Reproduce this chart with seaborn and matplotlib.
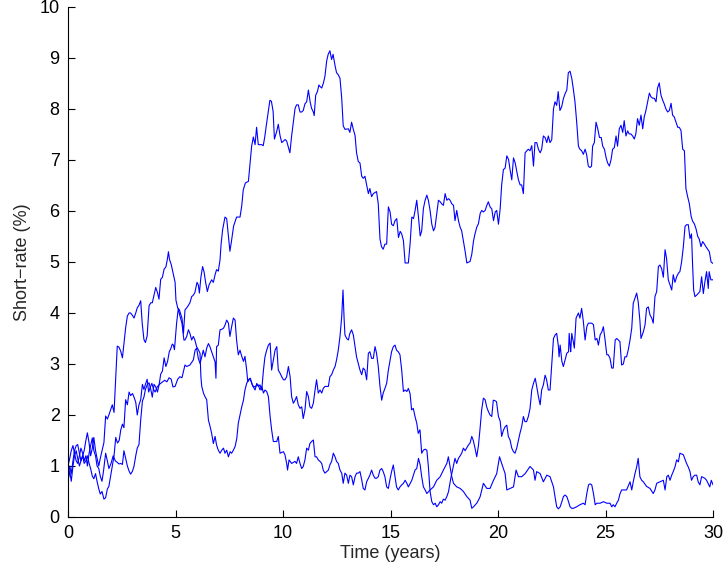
import matplotlib
matplotlib.use("Agg")
import matplotlib.pyplot as plt
import seaborn as sns
import pandas as pd

# ---- data (time in years, short rate in %) ----
a_t = [0, 0.08, 0.15, 0.23, 0.3, 0.38, 0.45, 0.53, 0.6, 0.68, 0.75, 0.83, 0.9, 0.98, 1.05, 1.13, 1.2, 1.28, 1.35, 1.43,
       1.5, 1.58, 1.67, 1.75, 1.83, 1.9, 1.98, 2.06, 2.14, 2.22, 2.29, 2.37, 2.45, 2.53, 2.6, 2.68, 2.76, 2.84, 2.91, 3.0,
       3.07, 3.15, 3.22, 3.3, 3.38, 3.45, 3.53, 3.6, 3.68, 3.77, 3.85, 3.92, 4.0, 4.08, 4.16, 4.23, 4.31, 4.39, 4.47, 4.55,
       4.62, 4.67, 4.72, 4.8, 4.9, 4.98, 5.02, 5.1, 5.18, 5.3, 5.37, 5.44, 5.52, 5.6, 5.67, 5.75, 5.83, 5.9, 6.0, 6.06,
       6.11, 6.18, 6.26, 6.33, 6.4, 6.48, 6.56, 6.68, 6.76, 6.84, 6.91, 6.99, 7.07, 7.12, 7.19, 7.3, 7.38, 7.44, 7.53, 7.6,
       7.7, 7.84, 8.0, 8.08, 8.15, 8.25, 8.39, 8.46, 8.54, 8.62, 8.7, 8.77, 8.85, 9.0, 9.08, 9.15, 9.23, 9.3, 9.39, 9.46,
       9.54, 9.6, 9.7, 9.78, 9.86, 9.94, 10.02, 10.1, 10.17, 10.25, 10.32, 10.4, 10.48, 10.56, 10.63, 10.71, 10.79, 10.87, 10.94, 11.02,
       11.1, 11.18, 11.26, 11.33, 11.41, 11.45, 11.52, 11.6, 11.67, 11.72, 11.8, 11.88, 11.95, 12.03, 12.1, 12.18, 12.26, 12.33, 12.41, 12.49,
       12.57, 12.65, 12.73, 12.8, 12.88, 13.04, 13.11, 13.19, 13.27, 13.35, 13.42, 13.5, 13.58, 13.66, 13.73, 13.81, 13.89, 13.97, 14.04, 14.12,
       14.2, 14.35, 14.43, 14.51, 14.58, 14.66, 14.74, 14.82, 14.9, 14.98, 15.05, 15.13, 15.21, 15.29, 15.37, 15.45, 15.52, 15.6, 15.68, 15.83,
       15.91, 15.99, 16.07, 16.14, 16.22, 16.3, 16.38, 16.45, 16.53, 16.61, 16.69, 16.76, 16.84, 16.92, 17.0, 17.07, 17.15, 17.23, 17.31, 17.38,
       17.46, 17.54, 17.62, 17.7, 17.77, 17.85, 17.93, 18.0, 18.08, 18.16, 18.24, 18.31, 18.39, 18.47, 18.55, 18.7, 18.78, 18.86, 18.93, 19.01,
       19.09, 19.17, 19.24, 19.32, 19.4, 19.48, 19.55, 19.63, 19.71, 19.79, 19.87, 19.94, 20.02, 20.1, 20.17, 20.25, 20.33, 20.41, 20.49, 20.56,
       20.64, 20.72, 20.8, 20.87, 20.95, 21.03, 21.1, 21.18, 21.26, 21.34, 21.41, 21.49, 21.57, 21.65, 21.72, 21.8, 21.88, 21.96, 22.03, 22.11,
       22.19, 22.27, 22.34, 22.42, 22.5, 22.58, 22.65, 22.73, 22.8, 22.88, 22.96, 23.04, 23.12, 23.2, 23.27, 23.35, 23.43, 23.5, 23.58, 23.66,
       23.74, 23.81, 23.89, 23.97, 24.05, 24.12, 24.2, 24.28, 24.35, 24.4, 24.48, 24.56, 24.64, 24.72, 24.8, 24.87, 24.95, 25.03, 25.1, 25.18,
       25.26, 25.33, 25.41, 25.49, 25.56, 25.64, 25.72, 25.8, 25.87, 25.95, 26.03, 26.1, 26.18, 26.26, 26.34, 26.41, 26.49, 26.57, 26.65, 26.73,
       26.8, 26.88, 26.96, 27.04, 27.11, 27.19, 27.27, 27.35, 27.42, 27.5, 27.58, 27.66, 27.73, 27.81, 27.89, 27.97, 28.05, 28.12, 28.2, 28.28,
       28.36, 28.43, 28.51, 28.59, 28.67, 28.74, 28.82, 28.9, 28.98, 29.05, 29.13, 29.21, 29.29, 29.36, 29.44, 29.52, 29.6, 29.67, 29.75, 29.83,
       29.91, 30.0]
a_v = [0.75, 1.0, 0.85, 1.1, 1.3, 1.4, 1.42, 1.25, 1.1, 1.2, 1.3, 1.5, 1.65, 1.45, 1.2, 1.35, 1.56, 1.3, 1.15, 1.0,
       1.15, 1.3, 1.46, 1.98, 1.92, 2.0, 2.1, 2.2, 2.05, 2.73, 3.35, 3.33, 3.25, 3.12, 3.4, 3.71, 3.94, 4.0, 4.0, 3.95,
       3.9, 4.0, 4.1, 4.15, 4.24, 3.8, 3.48, 3.42, 3.55, 4.14, 4.2, 4.2, 4.35, 4.5, 4.4, 4.27, 4.66, 4.7, 4.86, 4.9,
       5.05, 5.2, 5.05, 4.95, 4.75, 4.6, 4.25, 4.1, 4.06, 3.9, 3.6, 4.06, 4.1, 4.15, 4.2, 4.32, 4.35, 4.4, 4.6, 4.55,
       4.39, 4.7, 4.91, 4.8, 4.6, 4.42, 4.55, 4.65, 4.6, 4.75, 4.85, 4.82, 5.04, 5.35, 5.63, 5.88, 5.85, 5.6, 5.21, 5.4,
       5.7, 5.88, 5.88, 6.1, 6.41, 6.55, 6.58, 6.9, 7.27, 7.45, 7.3, 7.64, 7.3, 7.3, 7.28, 7.45, 7.7, 7.9, 8.17, 8.15,
       7.95, 7.41, 7.55, 7.7, 7.48, 7.34, 7.37, 7.4, 7.37, 7.25, 7.14, 7.47, 7.74, 8.01, 8.08, 8.08, 7.94, 7.94, 7.97, 8.1,
       8.14, 8.37, 8.14, 8.01, 7.94, 7.87, 8.27, 8.34, 8.47, 8.44, 8.41, 8.51, 8.64, 8.94, 9.07, 9.14, 8.97, 9.07, 8.87, 8.71,
       8.67, 8.6, 8.21, 7.67, 7.6, 7.61, 7.54, 7.74, 7.6, 7.48, 7.14, 6.97, 6.94, 6.68, 6.64, 6.68, 6.51, 6.34, 6.44, 6.28,
       6.34, 6.38, 6.14, 5.45, 5.3, 5.25, 5.35, 5.35, 6.08, 5.98, 5.74, 5.71, 5.81, 5.85, 5.48, 5.6, 5.55, 5.42, 4.98, 4.98,
       5.35, 5.88, 5.85, 6.0, 6.21, 5.88, 5.51, 5.61, 6.05, 6.21, 6.31, 6.21, 6.01, 5.74, 5.61, 5.68, 5.95, 6.21, 6.18, 6.14,
       6.11, 6.34, 6.21, 6.24, 6.21, 6.14, 6.11, 5.81, 6.01, 5.81, 5.68, 5.61, 5.41, 5.21, 4.98, 5.01, 5.15, 5.41, 5.55, 5.68,
       5.75, 5.95, 6.01, 5.98, 6.01, 6.11, 6.18, 6.08, 6.04, 5.81, 5.98, 6.01, 5.74, 6.04, 6.51, 6.81, 6.84, 7.08, 7.01, 6.81,
       6.61, 7.04, 6.94, 6.78, 6.61, 6.51, 6.51, 6.34, 7.14, 7.18, 7.21, 7.18, 7.28, 6.88, 7.34, 7.34, 7.21, 7.14, 7.21, 7.47,
       7.44, 7.34, 7.47, 7.34, 7.4, 8.0, 8.14, 8.07, 8.34, 7.97, 8.04, 8.2, 8.3, 8.37, 8.71, 8.74, 8.6, 8.4, 8.14, 7.74,
       7.27, 7.21, 7.18, 7.11, 7.21, 7.11, 6.88, 6.85, 6.88, 7.27, 7.34, 7.74, 7.61, 7.44, 7.44, 7.27, 7.21, 7.04, 6.94, 6.88,
       7.01, 7.21, 7.24, 7.47, 7.27, 7.61, 7.68, 7.54, 7.77, 7.47, 7.57, 7.51, 7.51, 7.47, 7.41, 7.51, 7.81, 7.68, 7.88, 7.61,
       7.84, 7.97, 8.14, 8.31, 8.24, 8.21, 8.21, 8.14, 8.41, 8.51, 8.27, 8.17, 8.1, 8.0, 7.94, 7.97, 8.11, 7.88, 7.84, 7.74,
       7.64, 7.64, 7.58, 7.21, 7.18, 6.44, 6.28, 6.14, 5.9, 5.8, 5.75, 5.65, 5.5, 5.45, 5.3, 5.4, 5.35, 5.3, 5.25, 5.2,
       5.0, 4.97]

b_t = [0, 0.08, 0.15, 0.23, 0.3, 0.38, 0.45, 0.53, 0.6, 0.68, 0.75, 0.83, 0.9, 0.98, 1.05, 1.13, 1.2, 1.28, 1.35, 1.43,
       1.5, 1.58, 1.65, 1.75, 1.83, 1.9, 2.0, 2.1, 2.2, 2.29, 2.37, 2.45, 2.53, 2.6, 2.68, 2.76, 2.84, 2.91, 3.0, 3.07,
       3.15, 3.22, 3.3, 3.38, 3.46, 3.53, 3.6, 3.69, 3.77, 3.85, 3.92, 4.0, 4.08, 4.16, 4.24, 4.31, 4.39, 4.47, 4.55, 4.63,
       4.71, 4.78, 4.85, 4.9, 4.95, 5.05, 5.13, 5.2, 5.3, 5.39, 5.44, 5.52, 5.6, 5.67, 5.75, 5.83, 5.9, 5.98, 6.06, 6.14,
       6.18, 6.22, 6.3, 6.37, 6.45, 6.53, 6.61, 6.68, 6.76, 6.84, 6.91, 6.99, 7.07, 7.15, 7.23, 7.3, 7.38, 7.46, 7.54, 7.61,
       7.69, 7.77, 7.85, 7.92, 8.0, 8.08, 8.16, 8.23, 8.31, 8.39, 8.47, 8.57, 8.7, 8.78, 8.85, 8.93, 9.01, 9.09, 9.16, 9.24,
       9.32, 9.4, 9.47, 9.55, 9.63, 9.71, 9.78, 9.86, 9.94, 10.02, 10.09, 10.17, 10.25, 10.33, 10.4, 10.48, 10.56, 10.63, 10.71, 10.79,
       10.87, 10.94, 11.02, 11.1, 11.18, 11.25, 11.33, 11.41, 11.49, 11.56, 11.64, 11.72, 11.8, 11.87, 11.95, 12.03, 12.11, 12.18, 12.26, 12.34,
       12.42, 12.49, 12.57, 12.65, 12.73, 12.79, 12.84, 12.88, 12.96, 13.04, 13.11, 13.19, 13.27, 13.35, 13.42, 13.5, 13.58, 13.66, 13.73, 13.81,
       13.89, 13.97, 14.04, 14.12, 14.2, 14.28, 14.35, 14.43, 14.51, 14.59, 14.66, 14.74, 14.82, 14.9, 14.97, 15.05, 15.13, 15.21, 15.28, 15.36,
       15.44, 15.52, 15.6, 15.68, 15.76, 15.83, 15.91, 15.98, 16.06, 16.14, 16.22, 16.29, 16.37, 16.45, 16.53, 16.61, 16.69, 16.76, 16.84, 16.92,
       17.0, 17.08, 17.15, 17.23, 17.31, 17.38, 17.46, 17.54, 17.62, 17.7, 17.8, 17.9, 18.0, 18.08, 18.16, 18.24, 18.31, 18.39, 18.47, 18.54,
       18.62, 18.7, 18.78, 18.85, 18.93, 19.01, 19.09, 19.16, 19.24, 19.32, 19.4, 19.48, 19.55, 19.63, 19.71, 19.78, 19.86, 19.93, 20.02, 20.1,
       20.17, 20.25, 20.33, 20.41, 20.48, 20.56, 20.64, 20.72, 20.79, 20.87, 20.95, 21.02, 21.1, 21.18, 21.25, 21.33, 21.41, 21.49, 21.57, 21.65,
       21.73, 21.8, 21.88, 21.96, 22.03, 22.11, 22.19, 22.26, 22.34, 22.42, 22.5, 22.58, 22.66, 22.73, 22.81, 22.84, 22.89, 22.97, 23.04, 23.12,
       23.2, 23.28, 23.31, 23.35, 23.38, 23.43, 23.5, 23.55, 23.63, 23.74, 23.81, 23.89, 23.97, 24.05, 24.13, 24.2, 24.36, 24.44, 24.52, 24.6,
       24.67, 24.75, 24.83, 24.9, 24.98, 25.06, 25.13, 25.21, 25.29, 25.36, 25.45, 25.52, 25.67, 25.75, 25.83, 25.9, 25.98, 26.06, 26.14, 26.22,
       26.29, 26.37, 26.45, 26.52, 26.6, 26.65, 26.76, 26.84, 26.91, 26.99, 27.07, 27.15, 27.22, 27.3, 27.38, 27.46, 27.53, 27.61, 27.69, 27.77,
       27.84, 27.92, 28.0, 28.08, 28.15, 28.23, 28.31, 28.39, 28.46, 28.54, 28.62, 28.7, 28.77, 28.85, 28.93, 29.0, 29.05, 29.1, 29.16, 29.24,
       29.39, 29.47, 29.55, 29.62, 29.7, 29.78, 29.82, 29.9, 30.0]
b_v = [1.0, 1.15, 1.3, 1.4, 1.25, 1.1, 1.05, 1.2, 1.35, 1.25, 1.1, 1.2, 1.0, 1.25, 1.4, 1.55, 1.3, 1.2, 1.0, 0.95,
       0.8, 0.7, 0.9, 1.25, 1.1, 0.95, 1.05, 1.2, 1.1, 1.07, 1.04, 1.05, 1.03, 1.3, 1.15, 1.0, 0.9, 0.84, 0.9, 1.0,
       1.2, 1.35, 1.42, 1.9, 2.27, 2.35, 2.5, 2.6, 2.63, 2.5, 2.35, 2.6, 2.55, 2.45, 2.6, 2.8, 2.86, 3.12, 2.95, 3.05,
       3.24, 3.3, 3.39, 3.37, 3.28, 3.8, 4.09, 3.95, 3.8, 3.47, 3.47, 3.54, 3.67, 3.6, 3.47, 3.54, 3.47, 3.34, 3.28, 3.21,
       2.75, 2.56, 2.43, 2.36, 2.3, 1.9, 1.77, 1.64, 1.44, 1.58, 1.41, 1.31, 1.25, 1.31, 1.35, 1.25, 1.31, 1.18, 1.28, 1.25,
       1.31, 1.38, 1.54, 1.84, 2.0, 2.16, 2.29, 2.49, 2.62, 2.69, 2.72, 2.59, 2.49, 2.62, 2.56, 2.59, 2.49, 2.88, 3.14, 3.27,
       3.37, 3.41, 2.88, 3.08, 3.27, 3.34, 2.88, 2.82, 2.75, 2.69, 2.69, 2.75, 2.95, 2.75, 2.36, 2.23, 2.29, 2.36, 2.2, 2.13,
       2.16, 1.93, 2.1, 2.46, 2.36, 2.16, 2.13, 2.23, 2.49, 2.69, 2.43, 2.49, 2.43, 2.52, 2.56, 2.56, 2.56, 2.75, 2.79, 2.88,
       2.95, 3.08, 3.27, 3.54, 3.93, 4.45, 3.9, 3.57, 3.5, 3.47, 3.6, 3.67, 3.57, 3.34, 3.14, 3.01, 2.88, 2.79, 2.92, 2.88,
       2.69, 3.21, 3.24, 3.11, 3.11, 3.34, 3.21, 2.95, 2.56, 2.29, 2.43, 2.52, 2.62, 2.88, 3.05, 3.24, 3.34, 3.37, 3.27, 3.24,
       3.18, 2.88, 2.46, 2.49, 2.46, 2.52, 2.42, 2.1, 2.13, 1.97, 1.84, 1.64, 1.71, 1.25, 1.31, 1.33, 1.31, 0.99, 0.5, 0.3,
       0.24, 0.27, 0.2, 0.24, 0.3, 0.27, 0.35, 0.33, 0.4, 0.5, 0.75, 0.95, 1.15, 1.05, 1.15, 1.2, 1.25, 1.35, 1.3, 1.35,
       1.41, 1.45, 1.58, 1.5, 1.35, 1.18, 1.4, 1.71, 2.1, 2.33, 2.3, 2.15, 2.07, 2.0, 1.97, 2.29, 2.28, 2.26, 1.97, 1.88,
       1.58, 1.7, 1.77, 1.8, 1.58, 1.51, 1.35, 1.28, 1.25, 1.35, 1.51, 1.64, 1.77, 1.97, 1.87, 1.87, 1.97, 2.13, 2.49, 2.62,
       2.72, 2.56, 2.36, 2.2, 2.49, 2.59, 2.78, 2.69, 2.49, 2.49, 3.01, 3.5, 3.57, 3.6, 3.34, 3.14, 3.37, 3.05, 2.95, 3.08,
       3.21, 3.24, 3.6, 3.37, 3.24, 3.6, 3.44, 3.31, 3.9, 4.0, 3.9, 4.09, 3.83, 3.47, 3.73, 3.8, 3.8, 3.77, 3.47, 3.5,
       3.37, 3.57, 3.63, 3.73, 3.47, 3.18, 3.18, 3.11, 2.92, 2.92, 3.47, 3.5, 3.44, 2.98, 3.0, 3.14, 3.14, 3.28, 3.47, 3.7,
       4.19, 4.29, 4.39, 4.22, 3.85, 3.5, 3.63, 3.77, 4.09, 4.12, 3.96, 3.9, 3.8, 4.32, 4.42, 4.91, 4.94, 4.87, 4.7, 5.24,
       5.07, 4.65, 4.55, 4.45, 4.75, 4.6, 4.71, 4.78, 4.81, 5.0, 5.3, 5.7, 5.73, 5.73, 5.46, 5.55, 4.95, 4.45, 4.32, 4.35,
       4.42, 4.71, 4.38, 4.6, 4.81, 4.48, 4.81, 4.65, 4.65]

c_t = [0, 0.08, 0.15, 0.23, 0.3, 0.38, 0.45, 0.53, 0.6, 0.68, 0.75, 0.83, 0.9, 0.98, 1.05, 1.13, 1.2, 1.28, 1.35, 1.43,
       1.5, 1.58, 1.67, 1.75, 1.83, 1.9, 1.98, 2.06, 2.14, 2.22, 2.3, 2.38, 2.45, 2.53, 2.6, 2.68, 2.76, 2.84, 2.91, 3.0,
       3.07, 3.15, 3.22, 3.3, 3.38, 3.46, 3.53, 3.6, 3.68, 3.75, 3.83, 3.9, 3.98, 4.05, 4.15, 4.25, 4.4, 4.5, 4.6, 4.7,
       4.8, 4.88, 4.98, 5.1, 5.2, 5.3, 5.44, 5.52, 5.67, 5.83, 5.91, 5.98, 6.06, 6.14, 6.22, 6.29, 6.37, 6.45, 6.53, 6.6,
       6.68, 6.76, 6.84, 6.88, 6.91, 6.99, 7.07, 7.15, 7.23, 7.3, 7.38, 7.46, 7.53, 7.61, 7.69, 7.77, 7.84, 7.92, 8.0, 8.08,
       8.16, 8.23, 8.31, 8.36, 8.47, 8.55, 8.62, 8.7, 8.85, 8.93, 9.01, 9.09, 9.16, 9.24, 9.32, 9.4, 9.47, 9.55, 9.71, 9.78,
       9.86, 10.02, 10.09, 10.17, 10.21, 10.28, 10.4, 10.56, 10.63, 10.71, 10.79, 10.87, 10.94, 11.02, 11.1, 11.18, 11.25, 11.33, 11.41, 11.49,
       11.56, 11.64, 11.72, 11.8, 11.87, 11.95, 12.03, 12.11, 12.18, 12.26, 12.34, 12.42, 12.49, 12.57, 12.65, 12.73, 12.8, 12.88, 12.96, 13.04,
       13.11, 13.19, 13.27, 13.35, 13.42, 13.5, 13.58, 13.66, 13.73, 13.81, 13.89, 13.97, 14.04, 14.12, 14.2, 14.28, 14.35, 14.43, 14.51, 14.59,
       14.66, 14.74, 14.82, 14.9, 14.97, 15.05, 15.13, 15.21, 15.28, 15.36, 15.44, 15.52, 15.6, 15.68, 15.76, 15.83, 15.99, 16.14, 16.22, 16.3,
       16.38, 16.45, 16.53, 16.61, 16.69, 16.84, 17.0, 17.15, 17.31, 17.46, 17.62, 17.69, 17.77, 17.85, 17.93, 18.08, 18.24, 18.39, 18.55, 18.7,
       18.78, 18.86, 19.01, 19.09, 19.17, 19.32, 19.48, 19.63, 19.79, 19.94, 20.07, 20.17, 20.33, 20.41, 20.56, 20.72, 20.84, 20.95, 21.1, 21.26,
       21.49, 21.65, 21.72, 21.8, 21.96, 22.11, 22.27, 22.42, 22.58, 22.65, 22.73, 22.81, 22.89, 22.97, 23.04, 23.12, 23.2, 23.28, 23.35, 23.43,
       23.5, 23.66, 23.81, 23.97, 24.05, 24.13, 24.21, 24.28, 24.36, 24.44, 24.52, 24.6, 24.75, 24.9, 25.06, 25.21, 25.29, 25.36, 25.44, 25.52,
       25.6, 25.67, 25.75, 25.83, 25.98, 26.14, 26.22, 26.29, 26.37, 26.45, 26.52, 26.6, 26.68, 26.76, 26.91, 27.07, 27.22, 27.3, 27.38, 27.53,
       27.69, 27.77, 27.85, 27.92, 28.0, 28.08, 28.15, 28.23, 28.31, 28.39, 28.46, 28.62, 28.77, 28.85, 28.93, 29.0, 29.08, 29.16, 29.24, 29.31,
       29.39, 29.47, 29.62, 29.7, 29.77, 29.85, 29.92, 30.0]
c_v = [0.7, 0.9, 0.7, 1.0, 1.2, 1.3, 1.15, 1.0, 1.1, 1.2, 1.05, 1.1, 1.2, 1.05, 0.95, 0.8, 0.75, 0.85, 0.7, 0.55,
       0.45, 0.5, 0.35, 0.38, 0.55, 0.6, 0.8, 1.0, 1.2, 1.56, 1.45, 1.5, 1.7, 1.82, 1.75, 2.3, 2.2, 2.45, 2.38, 2.42,
       2.35, 2.25, 2.0, 2.2, 2.3, 2.6, 2.5, 2.6, 2.7, 2.45, 2.55, 2.62, 2.5, 2.45, 2.55, 2.6, 2.65, 2.68, 2.65, 2.73,
       2.7, 2.55, 2.56, 2.7, 2.75, 2.73, 2.98, 2.95, 2.98, 3.08, 3.27, 3.31, 3.11, 3.01, 3.14, 3.27, 3.14, 3.31, 3.4, 3.34,
       3.24, 3.14, 3.04, 2.72, 3.34, 3.37, 3.67, 3.68, 3.7, 3.76, 3.86, 3.8, 3.54, 3.73, 3.9, 3.86, 3.47, 3.18, 3.27, 3.15,
       3.05, 3.15, 2.88, 2.65, 2.72, 2.62, 2.55, 2.56, 2.59, 2.49, 2.56, 2.43, 2.49, 2.46, 2.36, 1.97, 1.71, 1.48, 1.48, 1.58,
       1.25, 1.28, 1.22, 1.05, 0.92, 1.12, 1.05, 1.09, 1.05, 1.18, 1.05, 0.95, 0.99, 1.12, 1.35, 1.31, 1.44, 1.48, 1.51, 1.18,
       1.18, 1.12, 1.09, 1.05, 0.92, 0.86, 0.89, 0.92, 1.02, 1.09, 1.25, 1.18, 1.09, 1.05, 0.92, 0.86, 0.66, 0.86, 0.82, 0.66,
       0.82, 0.79, 0.63, 0.79, 0.86, 0.86, 0.89, 0.73, 0.56, 0.53, 0.69, 0.76, 0.82, 0.92, 0.82, 0.76, 0.76, 0.79, 0.92, 0.95,
       0.89, 0.79, 0.59, 0.56, 0.73, 0.89, 1.02, 0.79, 0.59, 0.53, 0.59, 0.63, 0.66, 0.72, 0.66, 0.59, 0.72, 0.92, 0.95, 1.15,
       1.02, 0.79, 0.59, 0.53, 0.46, 0.53, 0.59, 0.72, 0.79, 0.92, 1.05, 1.18, 0.99, 0.79, 0.66, 0.59, 0.56, 0.5, 0.4, 0.33,
       0.17, 0.2, 0.27, 0.33, 0.4, 0.66, 0.56, 0.56, 0.72, 0.85, 1.18, 1.05, 0.85, 0.53, 0.56, 0.59, 0.92, 0.79, 0.79, 0.85,
       0.99, 0.92, 0.72, 0.89, 0.85, 0.69, 0.82, 0.79, 0.59, 0.4, 0.2, 0.16, 0.2, 0.3, 0.4, 0.43, 0.4, 0.3, 0.2, 0.17,
       0.17, 0.2, 0.24, 0.27, 0.24, 0.46, 0.63, 0.65, 0.63, 0.46, 0.24, 0.27, 0.27, 0.3, 0.27, 0.27, 0.2, 0.24, 0.2, 0.27,
       0.33, 0.45, 0.53, 0.53, 0.53, 0.69, 0.53, 0.69, 0.85, 0.98, 1.15, 0.79, 0.72, 0.69, 0.6, 0.56, 0.46, 0.53, 0.66, 0.69,
       0.72, 0.53, 0.79, 0.82, 0.72, 0.82, 0.89, 0.98, 1.12, 1.08, 1.25, 1.22, 1.05, 0.98, 0.89, 0.72, 0.79, 0.82, 0.82, 0.69,
       0.63, 0.79, 0.76, 0.72, 0.66, 0.59, 0.72, 0.63]

x_ticks = [0, 5, 10, 15, 20, 25, 30]
y_ticks = [0, 1, 2, 3, 4, 5, 6, 7, 8, 9, 10]
x_label = "Time (years)"
y_label = "Short\u2212rate (%)"

# ---- figure ----
sns.set_style("ticks")
plt.rcParams["font.family"] = ["Liberation Sans", "DejaVu Sans"]

fig = plt.figure(figsize=(7.26, 5.77), dpi=100)
ax = fig.add_axes([0.0937, 0.104, 0.8884, 0.884])

paths = [(a_t, a_v), (b_t, b_v), (c_t, c_v)]
for tt, vv in paths:
    df = pd.DataFrame({"t": tt, "v": vv})
    sns.lineplot(data=df, x="t", y="v", ax=ax, estimator=None, sort=False,
                 color="#0000ff", linewidth=0.8)

ax.set_xlim(0, 30)
ax.set_ylim(0, 10)
ax.set_xticks(x_ticks)
ax.set_yticks(y_ticks)
ax.tick_params(direction="in", length=5, width=0.8, labelsize=13, colors="black", pad=6)
for side in ["top", "right"]:
    ax.spines[side].set_visible(False)
for side in ["left", "bottom"]:
    ax.spines[side].set_color("black")
    ax.spines[side].set_linewidth(0.8)
ax.set_xlabel(x_label, fontsize=13, labelpad=2)
ax.set_ylabel(y_label, fontsize=13, labelpad=6)

fig.savefig("out.png", dpi=100)
